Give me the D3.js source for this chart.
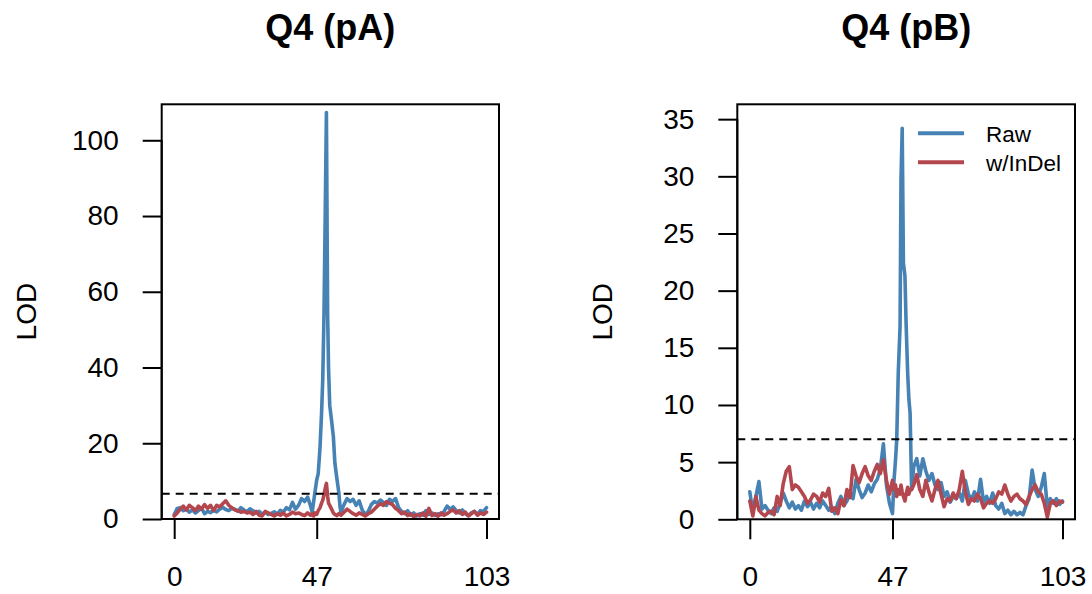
<!DOCTYPE html>
<html><head><meta charset="utf-8">
<script src="https://cdn.jsdelivr.net/npm/d3@7"></script>
<style>html,body{margin:0;padding:0;background:#fff}svg{display:block}</style>
</head><body>
<svg id="c" width="1092" height="594"></svg>
<script>
// ---------- DATA ----------
const xTicks = [0, 47, 103];
const seriesNames = ["Raw", "w/InDel"];
const titles = ["Q4 (pA)", "Q4 (pB)"];
const yTicksA = [0, 20, 40, 60, 80, 100];
const yTicksB = [0, 5, 10, 15, 20, 25, 30, 35];
const thresholdA = 6.7;
const thresholdB = 7.0;

const posA = [0,1,2,3,4,5,6,7,8,9,10,11,12,13,14,15,16,17,18,19,20,21,22,23,24,25,26,27,28,29,30,31,32,33,34,35,36,37,38,39,40,41,42,43,44,45,
  45.5,46,46.4,47,47.5,48.1,48.6,49,49.4,49.8,50.2,50.6,50.9,51.3,51.9,52.5,53,53.6,54.3,54.7,55,
  56,57,58,59,60,61,62,63,64,65,66,67,68,69,70,71,72,73,74,75,76,77,78,79,80,81,82,83,84,85,86,87,88,89,90,91,92,93,94,95,96,97,98,99,100,101,102,103];
const rawA = [1.2,2.8,3.0,2.2,2.6,1.8,2.4,1.6,2.2,2.9,1.4,2.0,1.7,2.3,1.9,2.6,3.1,2.5,2.2,2.8,2.6,2.0,3.0,2.4,1.9,2.7,2.2,1.6,2.0,1.3,1.8,1.2,1.5,1.9,1.3,2.3,1.8,3.0,2.4,4.4,2.6,3.6,5.4,4.6,5.8,3.4,
  1.8,4.6,6.9,10.3,12,19,27.9,37,54,80,107.3,54.3,40,30,26,21.7,14.7,11,6.9,3.2,1.8,
  3.8,5.4,4.6,5.2,3.6,4.8,2.4,1.2,2.0,3.8,4.6,4.2,5.0,4.4,3.6,5.2,4.6,5.4,3.0,2.0,1.4,2.2,1.0,1.6,0.8,1.4,1.0,2.2,1.2,1.6,0.9,1.4,1.1,2.0,3.4,2.6,3.2,2.2,1.6,2.4,1.4,0.9,1.6,2.0,1.2,2.2,2.0,3.0];
const indelA = [0.8,1.6,2.6,3.4,2.4,3.6,3.0,2.2,3.4,2.6,3.8,2.8,3.6,2.2,3.6,3.2,4.0,4.8,3.6,3.0,2.4,2.2,1.8,2.0,1.6,1.8,1.2,2.0,1.0,0.8,2.0,1.6,1.2,0.8,1.4,1.0,1.6,0.8,1.2,1.8,1.4,1.6,1.2,0.9,1.6,1.0,
  1.4,0.8,1.6,1.2,2.2,3.0,4.2,5.0,6.4,8.0,9.4,6.0,4.2,3.6,2.6,1.6,1.2,0.9,1.4,1.2,1.0,
  1.8,2.6,2.0,1.4,1.0,1.6,1.2,0.8,1.4,1.8,2.6,3.4,4.0,3.6,4.6,4.2,3.8,2.8,2.2,1.4,1.8,0.9,1.4,0.6,1.2,0.8,1.6,0.7,2.8,0.9,1.4,0.7,1.6,1.0,1.4,2.0,2.4,1.6,2.2,1.2,1.8,0.8,1.4,2.0,1.0,1.6,1.2,1.8];

const posB = [0,1,2,3,4,5,6,7,8,9,10,11,12,13,14,15,16,17,18,19,20,21,22,23,24,25,26,27,28,29,30,31,32,33,34,35,36,37,38,39,40,41,42,43,44,45,46,47,
  47.5,48,48.4,48.9,49.5,49.8,50.2,50.6,51.1,51.5,52,52.4,52.8,53.3,54,
  55,56,57,58,59,60,61,62,63,64,65,66,67,68,69,70,71,72,73,74,75,76,77,78,79,80,81,82,83,84,85,86,87,88,89,90,91,92,93,94,95,96,97,98,99,100,101,102,103];
const rawB = [2.4,0.6,2.0,3.3,0.9,1.2,0.8,0.5,1.0,0.7,1.4,2.3,1.6,1.0,1.5,0.9,1.2,0.8,1.6,1.1,1.5,0.9,1.4,1.0,1.6,1.2,0.8,1.1,0.5,1.4,2.0,1.2,1.6,2.4,1.8,3.5,2.6,1.9,2.3,3.0,2.4,3.1,3.5,4.4,6.6,3.0,1.4,0.5,
  3.4,5.2,7.0,12.8,16.9,29.7,34.2,22.4,21.3,17,12.8,10.5,9.3,2.6,4.6,
  5.3,3.8,5.3,4.2,3.4,4.0,3.0,2.6,3.2,2.0,2.4,1.5,2.0,1.8,2.3,1.6,3.4,2.2,1.7,2.4,1.6,3.5,1.5,2.0,1.4,2.3,1.2,0.9,1.4,0.5,0.8,0.4,0.7,0.4,0.6,0.4,1.2,1.8,4.3,2.6,2.0,2.8,4.0,1.1,1.8,1.4,1.8,1.3,1.6];
const indelB = [1.6,0.3,2.0,0.8,0.5,0.3,0.6,0.7,0.4,2.0,1.2,3.1,4.2,4.6,2.6,3.0,2.8,2.4,2.0,1.4,1.7,2.2,2.0,1.5,2.3,2.0,2.7,0.7,1.0,0.5,1.7,1.2,2.6,1.9,4.7,3.8,3.2,4.0,4.6,3.8,3.4,4.2,4.8,4.0,5.2,3.4,2.2,3.4,
  2.6,3.0,2.0,2.6,2.2,3.0,2.4,2.0,1.6,2.2,2.8,2.2,2.6,2.6,3.0,
  3.9,2.6,2.0,3.4,2.4,1.6,2.6,3.4,2.2,1.1,1.8,1.6,2.3,1.8,2.6,4.2,2.4,1.3,1.8,1.6,2.2,1.8,1.0,1.4,1.6,1.4,1.8,2.4,2.2,3.0,2.2,1.6,2.0,2.2,1.8,1.6,1.3,2.0,2.6,3.0,2.4,2.2,1.4,0.2,1.4,1.6,1.2,1.6,1.5];

// ---------- DRAW ----------
const colors = ["#4682B4", "#B4464E"];
const FONT = "'Liberation Sans', Arial, Helvetica, sans-serif";
const svg = d3.select("#c");

const panels = [
  {title: titles[0], pos: posA, raw: rawA, indel: indelA, yTicks: yTicksA, yMax: 109.5, thr: thresholdA,
   left: 161.7, right: 499, top: 104.3, bottom: 519, legend: false},
  {title: titles[1], pos: posB, raw: rawB, indel: indelB, yTicks: yTicksB, yMax: 36.3, thr: thresholdB,
   left: 737.3, right: 1075, top: 104.3, bottom: 519.3, legend: true}
];

panels.forEach(p => {
  const x = d3.scaleLinear().domain([-4.12, 107.12]).range([p.left, p.right]);
  const y = d3.scaleLinear().domain([0, p.yMax]).range([p.bottom, p.top]);
  const g = svg.append("g");

  // title
  g.append("text").attr("x", (p.left + p.right) / 2).attr("y", 40)
    .attr("text-anchor", "middle").attr("font-family", FONT).attr("font-weight", "bold")
    .attr("font-size", 36).text(p.title);

  // y label
  g.append("text").attr("transform", `translate(${p.left - 125.7},${(p.top + p.bottom) / 2}) rotate(-90)`)
    .attr("text-anchor", "middle").attr("font-family", FONT).attr("font-size", 28).text("LOD");

  // y axis
  const yAxis = d3.axisLeft(y).tickValues(p.yTicks).tickSize(19).tickPadding(24).tickFormat(d3.format("d"));
  const ya = g.append("g").attr("transform", `translate(${p.left},0)`).call(yAxis);
  ya.select(".domain").attr("d", `M0,${y(p.yTicks[0])}V${y(p.yTicks[p.yTicks.length - 1])}`).attr("stroke-width", 2);
  ya.selectAll(".tick line").attr("stroke-width", 2);
  ya.selectAll(".tick text").attr("font-family", FONT).attr("font-size", 28).attr("fill", "#000");

  // x axis
  const xAxis = d3.axisBottom(x).tickValues(xTicks).tickSize(20).tickPadding(27).tickFormat(d3.format("d"));
  const xa = g.append("g").attr("transform", `translate(0,${p.bottom})`).call(xAxis);
  xa.select(".domain").remove();
  xa.selectAll(".tick line").attr("stroke-width", 2);
  xa.selectAll(".tick text").attr("font-family", FONT).attr("font-size", 28).attr("fill", "#000");

  // clip
  const clipId = "clip" + Math.round(p.left);
  svg.append("clipPath").attr("id", clipId).append("rect")
    .attr("x", p.left).attr("y", p.top).attr("width", p.right - p.left).attr("height", p.bottom - p.top);

  const line = d3.line().x(d => x(d[0])).y(d => y(d[1]));
  const plot = g.append("g").attr("clip-path", `url(#${clipId})`);
  [p.raw, p.indel].forEach((vals, i) => {
    plot.append("path").datum(p.pos.map((v, k) => [v, vals[k]]))
      .attr("d", line).attr("fill", "none").attr("stroke", colors[i])
      .attr("stroke-width", 3.6).attr("stroke-linejoin", "round").attr("stroke-linecap", "round");
  });

  // threshold
  plot.append("line").attr("x1", p.left).attr("x2", p.right).attr("y1", y(p.thr)).attr("y2", y(p.thr))
    .attr("stroke", "#000").attr("stroke-width", 2).attr("stroke-dasharray", "8,6");

  // box
  g.append("rect").attr("x", p.left).attr("y", p.top).attr("width", p.right - p.left).attr("height", p.bottom - p.top)
    .attr("fill", "none").attr("stroke", "#000").attr("stroke-width", 2);

  if (p.legend) {
    seriesNames.forEach((nm, i) => {
      const ly = 133.3 + i * 29;
      g.append("line").attr("x1", 918).attr("x2", 964).attr("y1", ly).attr("y2", ly)
        .attr("stroke", colors[i]).attr("stroke-width", 4);
      g.append("text").attr("x", 986).attr("y", ly + 8.5).attr("font-family", FONT).attr("font-size", 22.5)
        .text(nm);
    });
  }
});
</script>
</body></html>
